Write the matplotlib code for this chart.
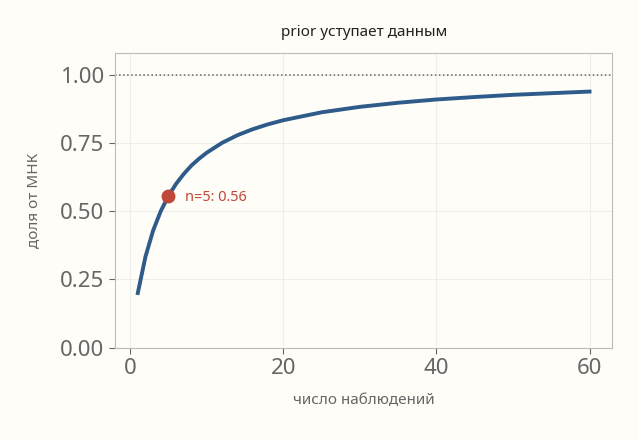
import matplotlib
matplotlib.use("Agg")
import matplotlib.pyplot as plt

plt.rcParams['font.family'] = ['Noto Sans', 'DejaVu Sans']

n_obs = [1, 2, 3, 4, 5, 6, 7, 8, 9, 10, 12, 14, 16, 18, 20, 25, 30, 35, 40, 45, 50, 55, 60]
share = [0.200, 0.333, 0.429, 0.500, 0.556, 0.600, 0.636, 0.667, 0.692, 0.714, 0.750,
         0.778, 0.800, 0.818, 0.833, 0.862, 0.882, 0.897, 0.909, 0.918, 0.926, 0.932, 0.938]
mark_n = 5
mark_v = 0.556

bg = '#fffdf8'
fig, ax = plt.subplots(figsize=(6.38, 4.40), dpi=100)
fig.patch.set_facecolor(bg)
ax.set_facecolor(bg)

ax.plot(n_obs, share, color='#2f5b8a', lw=2.8)
ax.axhline(1.0, color='#666666', ls=':', lw=1.1)
ax.plot([mark_n], [mark_v], 'o', color='#c0483a', ms=9, zorder=5)
ax.annotate(f"n={mark_n}: {mark_v:.2f}", (mark_n, mark_v), xytext=(12, -1),
            textcoords='offset points', color='#c0483a', fontsize=10.5, va='center')

ax.set_xlim(-2, 63)
ax.set_ylim(0, 1.08)
ax.set_xticks([0, 20, 40, 60])
ax.set_yticks([0, 0.25, 0.5, 0.75, 1.0])
ax.grid(True, color='#eeeeee', lw=0.8)
for s in ax.spines.values():
    s.set_color('#bbbbbb')
ax.tick_params(labelsize=16, colors='#666666', length=4)
ax.set_title("prior уступает данным", fontsize=11, color='#222222', pad=12)
ax.set_xlabel("число наблюдений", fontsize=11, color='#666666', labelpad=10)
ax.set_ylabel("доля от МНК", fontsize=11, color='#666666', labelpad=14)

fig.subplots_adjust(left=0.18, right=0.96, top=0.88, bottom=0.21)
fig.savefig("out.png", dpi=100, facecolor=bg)
